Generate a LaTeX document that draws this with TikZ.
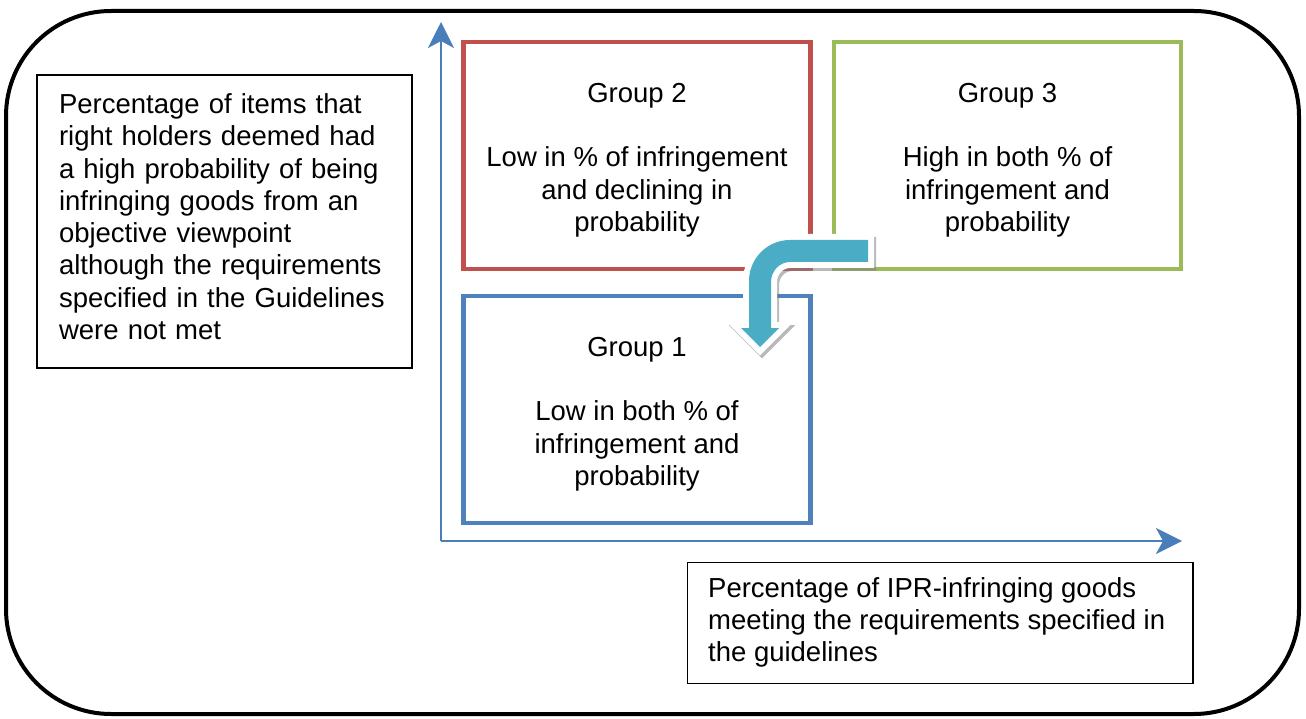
\documentclass[tikz,border=0pt]{standalone}
\usepackage{fontspec}
\setmainfont{Liberation Sans}
\usetikzlibrary{arrows.meta}
\definecolor{gred}{HTML}{C0504D}
\definecolor{ggreen}{HTML}{9BBB59}
\definecolor{gblue}{HTML}{4F81BD}
\definecolor{axisblue}{HTML}{4A7EBB}
\definecolor{arrowteal}{HTML}{4BACC6}
\newcommand\grouptopstrut{\rule{0pt}{28.5pt}}
\newcommand\leftbotstrut{\rule[-10pt]{0pt}{0pt}}
\tikzset{
  txt/.style={font=\fontsize{27.5}{32.3}\selectfont},
  groupbox/.style={txt, draw, line width=4.5pt, minimum width=347pt, minimum height=227pt, align=center, inner sep=0pt},
  thinbox/.style={draw=black, line width=1.2pt},
  axis/.style={draw=axisblue, line width=2.5pt, -{Stealth[length=26pt,width=26pt,inset=7pt]}},
  bentshape/.style={insert path={(868,240) -- (790,240) .. controls (767.4,240) and (749,258.4) .. (749,281) -- (749,328) -- (741,328) -- (760,347) -- (779,328) -- (771,328) -- (771,282) .. controls (771,271) and (779.5,262) .. (790,262) -- (868,262) -- cycle}}
}
\begin{document}
\begin{tikzpicture}[x=1pt,y=-1pt]
\useasboundingbox (0,0) rectangle (1306,719);
% outer frame
\draw[line width=4pt, rounded corners=105pt] (6,11) rectangle (1299,714);
% left text box
\node[thinbox, txt, text width=331pt, align=left, inner xsep=22pt, inner ysep=0pt, minimum height=293pt] (ybox) at (224.5,221.5)
  {Percentage of items that\\right holders deemed had\\a high probability of being\\infringing goods from an\\objective viewpoint\\although the requirements\\specified in the Guidelines\\were not met\leftbotstrut};
% bottom text box
\node[thinbox, minimum width=505.5pt, minimum height=120.5pt, inner sep=0pt] (xbox) at (940.3,623) {};
\node[txt, anchor=north west, align=left, inner sep=0pt] (xtext) at ([xshift=21pt,yshift=-15pt]xbox.north west)
  {Percentage of IPR-infringing goods\\meeting the requirements specified in\\the guidelines};
% group boxes
\node[groupbox, draw=gred] (g2) at (637,155.5) {\grouptopstrut Group 2\\\mbox{}\\Low in \% of infringement\\and declining in\\probability};
\node[groupbox, draw=ggreen] (g3) at (1007.5,155.5) {\grouptopstrut Group 3\\\mbox{}\\High in both \% of\\infringement and\\probability};
\node[groupbox, draw=gblue] (g1) at (637,409.5) {\grouptopstrut Group 1\\\mbox{}\\Low in both \% of\\infringement and\\probability};
% axes
\coordinate (O) at (441,541);
\coordinate (ytip) at (441,22);
\coordinate (xtip) at (1182,541);
\draw[axis] (O) -- (ytip);
\draw[axis] (O) -- (xtip);
% bent arrow from group 3 area to group 1
\path[fill=gray, draw=gray, opacity=0.55, line width=12pt, line join=miter, shift={(2,3)}, bentshape];
\path[fill=white, draw=white, line width=12pt, line join=miter, bentshape];
\path[fill=arrowteal, bentshape];
\end{tikzpicture}
\end{document}
